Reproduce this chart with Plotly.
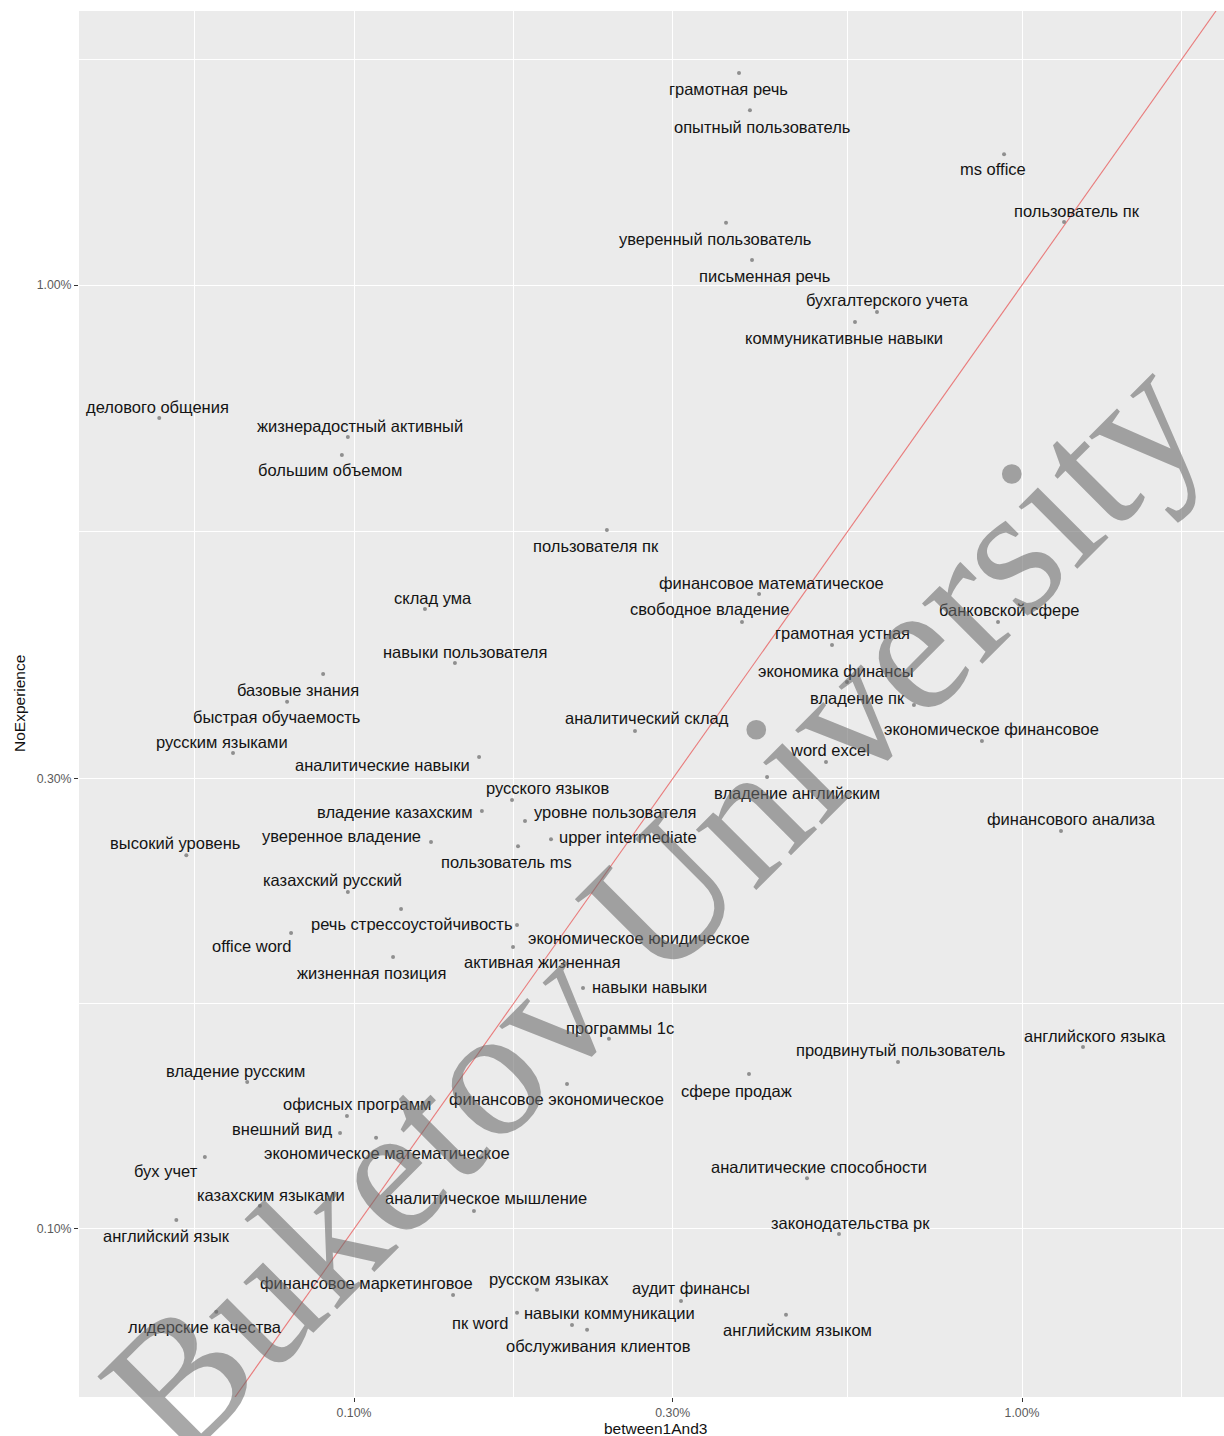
import numpy as np
import plotly.graph_objects as go

# ---------------- data ----------------
terms = [
    "грамотная речь", "опытный пользователь", "ms office", "пользователь пк",
    "уверенный пользователь", "письменная речь", "бухгалтерского учета",
    "коммуникативные навыки", "делового общения", "жизнерадостный активный",
    "большим объемом", "пользователя пк", "финансовое математическое", "склад ума",
    "свободное владение", "банковской сфере", "грамотная устная",
    "навыки пользователя", "экономика финансы", "базовые знания",
    "быстрая обучаемость", "владение пк", "аналитический склад",
    "экономическое финансовое", "русским языками", "word excel",
    "аналитические навыки", "владение английским", "русского языков",
    "владение казахским", "уровне пользователя", "финансового анализа",
    "уверенное владение", "upper intermediate", "высокий уровень",
    "пользователь ms", "казахский русский", "речь стрессоустойчивость",
    "office word", "экономическое юридическое", "активная жизненная",
    "жизненная позиция", "навыки навыки", "программы 1с", "английского языка",
    "продвинутый пользователь", "сфере продаж", "владение русским",
    "финансовое экономическое", "офисных программ", "внешний вид",
    "экономическое математическое", "бух учет", "аналитические способности",
    "казахским языками", "аналитическое мышление", "английский язык",
    "законодательства рк", "русском языках", "финансовое маркетинговое",
    "аудит финансы", "лидерские качества", "навыки коммуникации",
    "английским языком", "пк word", "обслуживания клиентов",
]

between1And3 = [
    0.003770, 0.003915, 0.009400, 0.011560, 0.003605, 0.003943, 0.006066,
    0.005623, 0.000511, 0.000979, 0.000959, 0.002391, 0.004040, 0.001277,
    0.003809, 0.009207, 0.005195, 0.001416, 0.005470, 0.000899, 0.000794,
    0.006890, 0.002634, 0.008710, 0.000659, 0.005088, 0.001539, 0.004153,
    0.001724, 0.001554, 0.001803, 0.011440, 0.001304, 0.001972, 0.000561,
    0.001760, 0.000979, 0.001176, 0.000805, 0.001754, 0.001730, 0.001144,
    0.002202, 0.002408, 0.012340, 0.006522, 0.003902, 0.000692, 0.002084,
    0.000976, 0.000953, 0.001079, 0.000598, 0.004766, 0.000723, 0.001512,
    0.000542, 0.005321, 0.001879, 0.001407, 0.003087, 0.000622, 0.001754,
    0.004433, 0.002120, 0.002233,
]

NoExperience = [
    0.016770, 0.015320, 0.013760, 0.011660, 0.011640, 0.010630, 0.009363,
    0.009137, 0.007229, 0.006902, 0.006605, 0.005500, 0.004707, 0.004537,
    0.004395, 0.004395, 0.004156, 0.003978, 0.003798, 0.003873, 0.003618,
    0.003590, 0.003370, 0.003288, 0.003193, 0.003124, 0.003162, 0.003011,
    0.002848, 0.002772, 0.002705, 0.002640, 0.002570, 0.002588, 0.002489,
    0.002544, 0.002275, 0.002183, 0.002059, 0.002099, 0.001989, 0.001941,
    0.001800, 0.001590, 0.001559, 0.001503, 0.001459, 0.001431, 0.001424,
    0.001317, 0.001264, 0.001249, 0.001192, 0.001132, 0.001058, 0.001045,
    0.001022, 0.000988, 0.000862, 0.000851, 0.000839, 0.000817, 0.000815,
    0.000811, 0.000791, 0.000782,
]

tick_vals = [0.001, 0.003, 0.01]
tick_labels = ["0.10%", "0.30%", "1.00%"]
minor_vals = [0.0005774, 0.001732, 0.005477, 0.01732]

# ---------------- label placement (pixel offsets, repel-like) ----------------
label_dx = [
    -11, 12, -11, 13, -11, 12, 11, -11, -2, 12, -12, -11, 12, 8, -32, 11, 10,
    10, -11, -25, -11, -56, 12, 10, -11, 4, -97, 30, 35, -87, 90, 10, -90, 77,
    -11, -12, -15, 10, -39, 122, 29, -22, 66, 11, 12, 2, -12, -12, -11, 10,
    -58, 11, -39, 12, 11, 12, -10, 12, 12, -87, 10, -11, 92, 11, -92, 11,
]
label_dy = [
    -16, -17, -15, 11, -16, -16, 12, -16, 11, 11, -15, -16, 11, 11, 13, 12, 12,
    11, 11, -16, -15, 7, 13, 12, 11, 12, -8, -16, 12, -1, 9, 12, 6, 2,
    12, -16, 12, -15, -13, -13, -15, -16, 1, 11, 11, 12, -17, 11, -15, 12,
    4, -15, -14, 11, 11, 13, -16, 11, 11, 12, 13, -15, 0, -15, 2, -16,
]

XR = [-3.4117, -1.6976]
YR = [-3.178, -1.7097]
FONT = "Liberation Sans, Arial, Helvetica, sans-serif"

fig = go.Figure()

# identity line y = x
lo = 10 ** min(XR[0], YR[0])
hi = 10 ** max(XR[1], YR[1])
fig.add_trace(go.Scatter(
    x=[lo, hi], y=[lo, hi], mode="lines",
    line=dict(color="rgba(232,95,95,0.8)", width=1.1),
    hoverinfo="skip", showlegend=False,
))

# points
fig.add_trace(go.Scatter(
    x=between1And3, y=NoExperience, mode="markers",
    marker=dict(size=4, color="#8f8f8f"),
    text=terms, hoverinfo="text", showlegend=False,
))

# text labels
for t, xv, yv, dx, dy in zip(terms, between1And3, NoExperience, label_dx, label_dy):
    fig.add_annotation(
        x=np.log10(xv), y=np.log10(yv), xref="x", yref="y",
        text=t, showarrow=False, xshift=dx, yshift=dy,
        font=dict(family=FONT, size=16.5, color="#141414"),
    )

# axis titles
fig.add_annotation(
    x=(655 - 79) / 1145, y=(1397 - 1428) / 1386, xref="paper", yref="paper",
    text="between1And3", showarrow=False, xanchor="center", yanchor="middle",
    font=dict(family=FONT, size=15.5, color="#111111"),
)
fig.add_annotation(
    x=(19 - 79) / 1145, y=0.5, xref="paper", yref="paper",
    text="NoExperience", showarrow=False, textangle=-90,
    xanchor="center", yanchor="middle",
    font=dict(family=FONT, size=15.5, color="#111111"),
)

# watermark
fig.add_annotation(
    x=(652 - 79) / 1145, y=(1397 - 905) / 1386, xref="paper", yref="paper",
    text="Buketov University", showarrow=False, textangle=-45,
    xanchor="center", yanchor="middle",
    font=dict(family="Liberation Serif, Times New Roman, serif", size=186,
              color="rgba(105,105,105,0.58)"),
)

axis_common = dict(
    type="log",
    tickmode="array",
    tickvals=tick_vals,
    ticktext=tick_labels,
    ticks="outside", ticklen=4, tickwidth=1, tickcolor="#333333",
    showgrid=True, gridcolor="white", gridwidth=1.2,
    zeroline=False, showline=False,
    tickfont=dict(family=FONT, size=12.3, color="#5a5a5a"),
    minor=dict(tickmode="array", tickvals=minor_vals, showgrid=True,
               gridcolor="white", gridwidth=0.6, ticks=""),
    automargin=False,
)

fig.update_layout(
    width=1224, height=1436,
    margin=dict(l=79, r=0, t=11, b=39),
    paper_bgcolor="white", plot_bgcolor="#EBEBEB",
    showlegend=False,
    xaxis=dict(range=XR, **axis_common),
    yaxis=dict(range=YR, **axis_common),
    font=dict(family=FONT),
)

fig.write_html("out.html")
